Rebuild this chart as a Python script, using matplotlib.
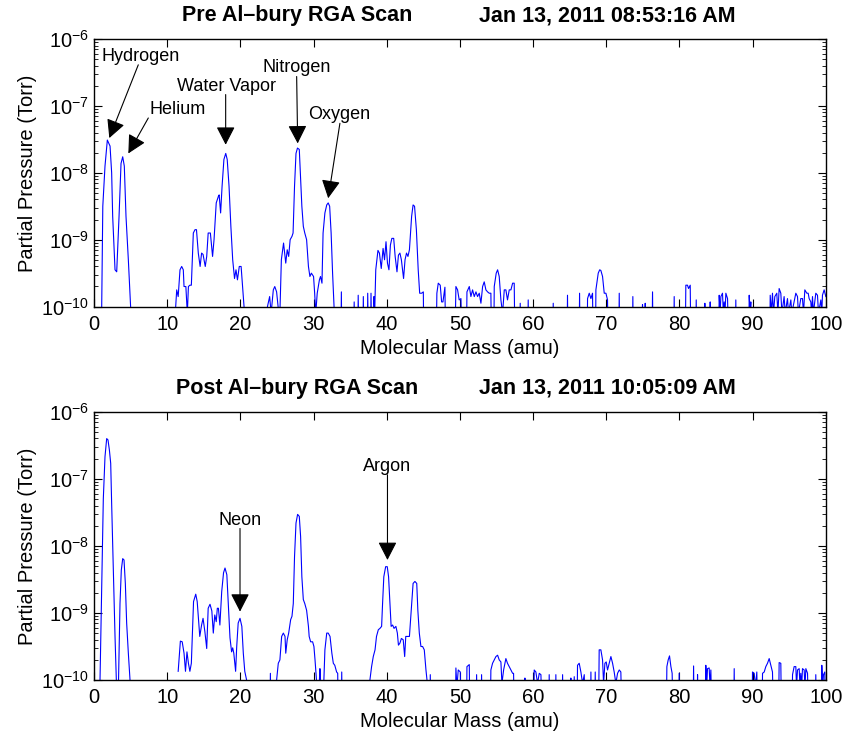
import matplotlib
matplotlib.use("Agg")
import matplotlib.pyplot as plt
import numpy as np
from matplotlib.ticker import LogLocator, NullFormatter, MultipleLocator

plt.rcParams['font.family'] = ['Liberation Sans', 'DejaVu Sans']
plt.rcParams['mathtext.fontset'] = 'custom'
plt.rcParams['mathtext.rm'] = 'Liberation Sans'
plt.rcParams['mathtext.it'] = 'Liberation Sans:italic'
plt.rcParams['mathtext.bf'] = 'Liberation Sans:bold'

nan = float('nan')

# RGA scan before the Al bury: mass (amu) and log10 of partial pressure (Torr)
# (-11 / -10.1 means the reading is below the bottom of the axis)
pre_mass = [
    0.9, 1.05, 1.2, 1.5, 1.82, 2.19, 2.41, 2.55, 2.87, 3.1, 3.42, 3.69, 3.92, 4.14, 4.37, 4.69, 5.0, 5.1,
    11.1, 11.16, 11.3, 11.5, 11.75, 11.98, 12.2, 12.3, 12.55, 12.75, 12.9, 13.1, 13.3, 13.57, 13.8, 14.0,
    14.25, 14.5, 14.7, 14.9, 15.2, 15.4, 15.6, 15.9, 16.2, 16.4, 16.7, 17.0, 17.1, 17.3, 17.5, 17.75,
    18.0, 18.2, 18.45, 18.7, 18.95, 19.2, 19.4, 19.6, 19.85, 20.1, 20.3, 20.5, 20.6,
    23.6, 23.7, 24.0, 24.2, 24.5, 24.7, 24.95, 25.2, 25.4, 25.6, 25.9, 26.0, 26.2, 26.4, 26.6, 26.8,
    27.05, 27.2, 27.4, 27.6, 27.8, 28.05, 28.2, 28.4, 28.6, 28.8, 29.05, 29.3, 29.5, 29.7, 30.0, 30.15,
    30.3, 30.5, 30.8, 30.95, 31.15, 31.3, 31.55, 31.8, 32.0, 32.2, 32.4, 32.6, 32.8, 32.9,
    33.7, 33.8, 33.9, 35.4, 35.55, 35.7, 36.0, 36.1, 36.25, 36.7, 36.8, 36.95, 37.3, 37.4, 37.55,
    37.75, 37.85, 38.0, 38.15, 38.25, 38.35,
    38.5, 38.8, 39.0, 39.25, 39.5, 39.7, 39.9, 40.1, 40.3, 40.5, 40.7, 40.95, 41.15, 41.4, 41.6, 41.8,
    42.0, 42.3, 42.5, 42.7, 42.9, 43.1, 43.4, 43.6, 43.8, 44.05, 44.3, 44.5, 44.77, 45.0, 45.1,
    46.7, 46.85, 47.04, 47.31, 47.5, 47.68, 47.95, 48.1,
    49.25, 49.45, 49.68, 49.9, 50.14, 50.36,
    50.85, 50.96, 51.28, 51.5, 51.73, 51.96, 52.19, 52.41, 52.64, 52.87, 53.1, 53.32, 53.55, 53.78,
    54.0, 54.23, 54.37, 54.6, 54.69, 54.96, 55.15, 55.37, 55.6, 55.83, 56.06, 56.28, 56.5, 56.74,
    56.97, 57.2, 57.42, 57.56,
    58.14, 58.24, 58.34, 59.23, 59.33, 59.43, 62.65, 62.75, 62.85, 64.6, 64.7, 64.8, 66.25, 66.35, 66.45,
    67.35, 67.44, 67.67, 67.9, 68.12, 68.25,
    68.5, 68.58, 68.9, 69.1, 69.26, 69.49, 69.72, 69.95, 70.17, 70.3,
    71.67, 71.77, 71.87, 73.53, 73.63, 73.73, 74.88, 74.95, 75.02, 75.25, 75.32, 75.39, 76.22, 76.32, 76.42,
    79.18, 79.28, 79.38, 80.75, 80.87, 81.1, 81.24, 81.47, 81.6,
    82.2, 82.29, 82.38, 83.4, 83.47, 83.54, 84.13, 84.2, 84.27,
    85.3, 85.43, 85.55, 85.66, 85.88, 86.0, 86.11, 86.22, 86.34, 86.57, 86.8,
    87.6, 87.7, 87.8, 89.43, 89.53, 89.65, 89.75, 89.85,
    92.3, 92.4, 92.55, 92.71, 92.85, 93.03, 93.3, 93.45, 93.62, 93.85, 94.0, 94.3, 94.45, 94.76,
    94.9, 95.22, 95.35, 95.9, 96.13, 96.25, 96.58, 96.81, 96.95, 97.13, 97.4, 97.59, 97.72, 97.95,
    98.05, 98.18, 98.3, 98.63, 98.86, 99.0, 99.32, 99.45, 99.54, 99.77, 100.0,
]
pre_log_torr = [
    -11, -10.0, -8.5, -7.9, -7.51, -7.6, -8.0, -8.65, -9.45, -9.48, -8.65, -7.86, -7.76, -7.9, -8.65, -9.3, -10.0, -11,
    -11, -10.0, -9.75, -9.85, -9.45, -9.4, -9.45, -9.7, -9.7, -10.1, -9.7, -9.68, -9.68, -8.9, -8.85, -8.85,
    -9.2, -9.4, -9.2, -9.22, -9.4, -9.25, -8.9, -8.9, -9.25, -9.0, -8.45, -8.35, -8.33, -8.6, -8.2, -7.8,
    -7.71, -7.8, -8.2, -8.8, -9.3, -9.58, -9.45, -9.6, -9.4, -9.4, -9.7, -10.0, -11,
    -11, -10.0, -9.85, -10.1, -9.75, -9.7, -9.78, -10.05, -10.1, -9.3, -9.05, -9.15, -9.35, -9.15, -9.25, -9.0,
    -8.95, -8.9, -8.2, -7.71, -7.63, -7.65, -8.0, -8.5, -8.8, -8.9, -9.0, -9.4, -9.55, -9.5, -9.55, -9.8,
    -10.1, -9.8, -9.6, -9.55, -9.65, -8.9, -8.6, -8.48, -8.45, -8.5, -8.9, -9.5, -10.0, -11,
    -11, -9.78, -11, -11, -9.93, -11, -11, -9.83, -11, -11, -9.85, -11, -11, -9.8, -11,
    -11, -9.8, -11, -11, -9.85, -10.1,
    -9.45, -9.16, -9.2, -9.43, -9.13, -9.3, -9.03, -9.35, -9.45, -9.08, -8.98, -8.98, -9.25, -9.48, -9.23, -9.2,
    -9.3, -9.58, -9.3, -9.2, -9.25, -9.15, -8.65, -8.48, -8.5, -8.85, -9.45, -9.8, -9.8, -9.78, -11,
    -11, -9.8, -9.65, -9.68, -9.93, -9.93, -9.71, -11,
    -11, -9.7, -9.75, -9.9, -9.88, -11,
    -11, -9.78, -9.7, -9.85, -9.75, -9.85, -9.78, -9.85, -9.8, -9.95, -9.7, -9.63, -9.75, -9.78,
    -9.8, -9.8, -11, -11, -9.7, -9.5, -9.45, -9.55, -9.9, -10.1, -9.75, -9.75, -9.9, -9.75,
    -9.75, -9.65, -9.65, -11,
    -11, -9.95, -11, -11, -9.9, -11, -11, -9.95, -11, -11, -9.83, -11, -11, -9.8, -11,
    -11, -9.88, -9.8, -9.88, -9.8, -11,
    -11, -9.75, -9.5, -9.45, -9.46, -9.55, -9.8, -9.8, -9.9, -11,
    -11, -9.8, -11, -11, -9.85, -11, -11, -9.97, -11, -11, -9.95, -11, -11, -9.78, -11,
    -11, -9.85, -11, -11, -9.68, -9.68, -9.73, -9.68, -11,
    -11, -9.9, -11, -11, -9.95, -11, -11, -9.93, -11,
    -11, -9.83, -10.1, -9.85, -9.8, -10.1, -9.93, -10.1, -9.8, -9.88, -11,
    -11, -9.9, -11, -11, -9.83, -10.1, -9.93, -11,
    -11, -9.83, -10.1, -9.8, -10.1, -9.85, -9.8, -10.1, -9.73, -9.8, -10.1, -9.85, -10.1, -9.88,
    -10.1, -9.9, -10.1, -9.8, -9.85, -10.1, -9.88, -9.88, -10.1, -9.75, -9.8, -9.8, -9.88, -9.93,
    -10.1, -9.85, -10.1, -9.8, -9.83, -10.1, -9.9, -10.1, -9.83, -9.75, -9.85,
]

# RGA scan after the Al bury
post_mass = [
    0.7, 0.82, 1.27, 1.5, 1.73, 1.91, 2.1, 2.28, 2.41, 2.64, 2.87, 3.05, 3.15,
    3.25, 3.35, 3.55, 3.73, 3.92, 4.1, 4.28, 4.46, 4.69, 4.92, 5.0,
    11.4, 11.5, 11.8, 12.05, 12.3, 12.5, 12.7, 12.9, 13.1, 13.3, 13.6, 13.9, 14.1, 14.45, 14.7, 14.9,
    15.15, 15.4, 15.6, 15.85, 16.1, 16.3, 16.5, 16.7, 16.85, 17.0, 17.2, 17.45, 17.7, 17.9, 18.15,
    18.35, 18.58, 18.8, 18.95, 19.1, 19.35, 19.5, 19.7, 19.95, 20.2, 20.4, 20.6, 20.85, 20.95,
    24.0, 24.1, 24.2, 24.9, 24.95, 25.18, 25.4, 25.64, 25.87, 26.1, 26.2, 26.4, 26.6, 26.87, 27.05,
    27.23, 27.4, 27.6, 27.82, 28.05, 28.23, 28.4, 28.6, 28.8, 29.05, 29.3, 29.4, 29.6, 29.87, 30.05,
    30.2, 30.4, 30.6, 30.8, 30.87, 30.95, 31.1, 31.4, 31.55, 31.8, 32.0, 32.25, 32.5, 32.7, 32.9,
    33.15, 33.3, 33.4, 33.75, 33.85, 33.95,
    37.6, 37.7, 37.93, 38.16, 38.4, 38.6, 38.85, 39.07, 39.3, 39.43, 39.6, 39.85, 40.07, 40.25, 40.44,
    40.6, 40.8, 41.0, 41.25, 41.45, 41.6, 41.8, 42.0, 42.25, 42.45, 42.6, 42.85, 43.1, 43.35, 43.6,
    43.85, 44.1, 44.25, 44.45, 44.67, 44.9, 45.13, 45.36, 45.5, 45.6,
    45.85, 45.95, 46.05,
    49.35, 49.45, 49.59, 49.77, 50.05, 50.23, 50.86, 50.96, 51.28, 51.4,
    52.18, 52.28, 52.38, 52.86, 52.96, 53.06,
    54.1, 54.23, 54.46, 54.69, 54.92, 55.15, 55.37, 55.6, 55.74, 55.97, 56.28, 56.5, 56.74, 56.97,
    57.2, 57.33, 57.51,
    58.8, 58.88, 58.96, 60.05, 60.15, 60.38, 60.61, 60.84, 61.07, 61.3,
    62.1, 62.2, 62.3, 63.01, 63.11, 63.21, 63.93, 64.03, 64.13, 65.08, 65.16, 65.24, 65.52, 65.62, 65.72,
    65.95, 66.07, 66.3, 66.53, 66.76, 66.99, 67.2,
    67.8, 67.9, 68.0, 68.39, 68.49, 68.59,
    68.9, 69.03, 69.26, 69.49, 69.63, 69.81, 69.99, 70.17, 70.4, 70.63, 70.86, 71.08, 71.31, 71.54,
    71.77, 71.99, 72.22,
    78.15, 78.28, 78.46, 78.64, 78.83, 79.0, 79.2,
    79.86, 79.96, 80.06, 81.83, 81.93, 82.03, 82.39, 82.47, 82.55,
    83.5, 83.6, 83.72, 83.83, 84.06, 84.18, 84.29, 84.5, 87.38, 87.48, 87.58,
    89.88, 89.98, 90.21, 90.4, 90.57, 90.76,
    91.25, 91.35, 91.58, 91.8, 92.03, 92.26, 92.49, 92.71, 92.94,
    93.5, 93.62, 93.85, 93.99,
    95.35, 95.45, 95.67, 95.9, 96.0, 96.13, 96.36, 96.47, 96.58, 96.7, 96.81, 97.04, 97.15, 97.27,
    97.5, 97.72,
    98.53, 98.63, 98.73, 99.35, 99.45, 99.57, 99.68, 99.86, 100.0,
]
post_log_torr = [
    -11, -10.0, -7.3, -6.67, -6.4, -6.42, -6.57, -6.77, -7.37, -8.36, -9.35, -10.0, -11,
    -11, -10.0, -8.86, -8.36, -8.19, -8.21, -8.56, -9.15, -9.6, -10.0, -11,
    nan, -9.87, -9.42, -9.43, -9.6, -9.87, -9.58, -9.75, -9.87, -9.75, -8.83, -8.72, -8.83, -9.35, -9.18, -9.08,
    -9.28, -9.53, -8.93, -8.87, -8.97, -9.3, -9.03, -9.13, -8.93, -8.93, -9.18, -8.68, -8.4, -8.33, -8.43,
    -8.88, -9.37, -9.58, -9.52, -9.6, -9.87, -9.5, -9.15, -9.08, -9.2, -9.6, -9.87, -10.0, -11,
    -11, -9.9, -11, -11, -10.0, -9.75, -9.7, -9.35, -9.3, -9.35, -9.6, -9.4, -9.3, -9.1, -9.05,
    -8.86, -8.16, -7.66, -7.53, -7.56, -7.86, -8.46, -8.8, -8.86, -8.96, -9.2, -9.35, -9.43, -9.43, -9.5,
    -9.7, -10.0, -11, -10.0, -9.83, -10.0, -11, -10.0, -9.55, -9.3, -9.3, -9.35, -9.6, -9.75, -9.78,
    -9.88, -9.9, -11, -11, -9.88, -11,
    -11, -10.0, -9.8, -9.65, -9.55, -9.35, -9.25, -9.23, -9.2, -8.86, -8.46, -8.31, -8.31, -8.46, -8.86,
    -9.2, -9.18, -9.23, -9.2, -9.3, -9.48, -9.45, -9.38, -9.4, -9.65, -9.35, -9.35, -9.35, -8.96, -8.56,
    -8.53, -8.56, -8.96, -9.3, -9.5, -9.5, -9.55, -9.85, -10.0, -11,
    -11, -9.92, -11,
    -11, -9.82, -10.1, -9.85, -9.88, -11, -11, -9.8, -9.77, -11,
    -11, -9.92, -11, -11, -9.92, -11,
    -11, -9.85, -9.75, -9.7, -9.65, -9.63, -9.7, -9.73, -10.05, -9.85, -9.68, -9.75, -9.8, -9.85,
    -9.9, -9.9, -11,
    -11, -9.97, -11, -11, -9.85, -9.88, -10.05, -9.9, -9.92, -11,
    -11, -9.92, -11, -11, -9.92, -11, -11, -9.92, -11, -11, -9.97, -11, -11, -9.95, -11,
    -11, -9.78, -9.75, -9.88, -10.05, -9.92, -11,
    -11, -9.88, -11, -11, -9.88, -11,
    -11, -9.55, -9.55, -9.7, -10.05, -9.75, -9.73, -9.85, -9.75, -9.65, -9.75, -9.88, -10.05, -9.9,
    -9.85, -9.88, -11,
    -11, -9.8, -9.7, -9.64, -9.8, -9.9, -11,
    -11, -9.9, -11, -11, -9.79, -11, -11, -9.92, -11,
    -11, -9.78, -10.1, -9.83, -9.82, -10.1, -9.85, -11, -11, -9.83, -11,
    -11, -9.88, -9.9, -10.1, -9.88, -11,
    -11, -9.9, -9.88, -9.8, -9.75, -9.68, -9.78, -9.88, -11,
    -11, -9.74, -9.75, -11,
    -11, -9.92, -9.8, -9.8, -10.1, -9.85, -9.83, -10.1, -9.9, -10.1, -9.83, -9.85, -10.1, -9.83,
    -9.9, -11,
    -11, -9.92, -11, -11, -9.78, -10.1, -9.92, -9.88, -11,
]

# gas labels: name, text position, arrow tail, arrow tip (mass, log10 Torr)
pre_labels = ['Hydrogen', 'Helium', 'Water Vapor', 'Nitrogen', 'Oxygen']
pre_label_xy = [(6.42, -6.325), (11.4, -7.12), (18.13, -6.77), (27.7, -6.49), (33.5, -7.19)]
pre_tail_xy = [(6.05, -6.385), (7.42, -7.18), (17.99, -6.83), (27.69, -6.56), (33.6, -7.26)]
pre_tip_xy = [(2.09, -7.48), (4.69, -7.71), (17.99, -7.58), (27.83, -7.56), (32.0, -8.38)]

post_labels = ['Neon', 'Argon']
post_label_xy = [(19.95, -7.69), (40.1, -6.88)]
post_tail_xy = [(19.95, -7.74), (40.1, -6.94)]
post_tip_xy = [(19.95, -8.98), (40.1, -8.21)]

pre_title = 'Pre Al\u2013bury RGA Scan'
pre_time = 'Jan 13, 2011 08:53:16 AM'
post_title = 'Post Al\u2013bury RGA Scan'
post_time = 'Jan 13, 2011 10:05:09 AM'


def draw_panel(ax, mass, logp, labels, label_xy, tail_xy, tip_xy, title, stamp):
    ax.plot(mass, 10.0 ** np.array(logp, dtype=float), color='#0000ff', lw=0.8)
    ax.set_yscale('log')
    ax.set_xlim(0, 100)
    ax.set_ylim(1e-10, 1e-6)
    ax.xaxis.set_major_locator(MultipleLocator(10))
    ax.yaxis.set_major_locator(LogLocator(base=10, numticks=10))
    ax.yaxis.set_minor_locator(LogLocator(base=10, subs=np.arange(2, 10), numticks=20))
    ax.yaxis.set_minor_formatter(NullFormatter())
    ax.tick_params(which='both', direction='in', top=True, right=True, labelsize=14.5)
    ax.tick_params(which='major', length=6, width=0.8)
    ax.tick_params(which='minor', length=3, width=0.6)
    ax.tick_params(axis='x', pad=6)
    for s in ax.spines.values():
        s.set_linewidth(1.0)
    ax.set_xlabel('Molecular Mass (amu)', fontsize=14.5, labelpad=3.5)
    ax.set_ylabel('Partial Pressure (Torr)', fontsize=14.5, labelpad=3)

    for name, (tx, ty), (ax0, ay0), (bx, by) in zip(labels, label_xy, tail_xy, tip_xy):
        ax.text(tx, 10 ** ty, name, ha='center', va='baseline', fontsize=13)
        ax.annotate('', xy=(bx, 10 ** by), xytext=(ax0, 10 ** ay0),
                    arrowprops=dict(arrowstyle='-|>,head_length=0.7,head_width=0.36',
                                    color='black', lw=0.8, mutation_scale=16,
                                    shrinkA=0, shrinkB=0))

    ax.text(0.278, 1.067, title, transform=ax.transAxes, ha='center', va='baseline',
            fontsize=15.5, fontweight='bold')
    ax.text(0.7015, 1.067, stamp, transform=ax.transAxes, ha='center', va='baseline',
            fontsize=15.5, fontweight='bold')


fig = plt.figure(figsize=(8.47, 7.37), dpi=100)
ax1 = fig.add_axes([0.111, 0.584, 0.864, 0.363])
ax2 = fig.add_axes([0.111, 0.0773, 0.864, 0.364])

draw_panel(ax1, pre_mass, pre_log_torr, pre_labels, pre_label_xy, pre_tail_xy, pre_tip_xy,
           pre_title, pre_time)
draw_panel(ax2, post_mass, post_log_torr, post_labels, post_label_xy, post_tail_xy, post_tip_xy,
           post_title, post_time)

fig.savefig('out.png', dpi=100)
